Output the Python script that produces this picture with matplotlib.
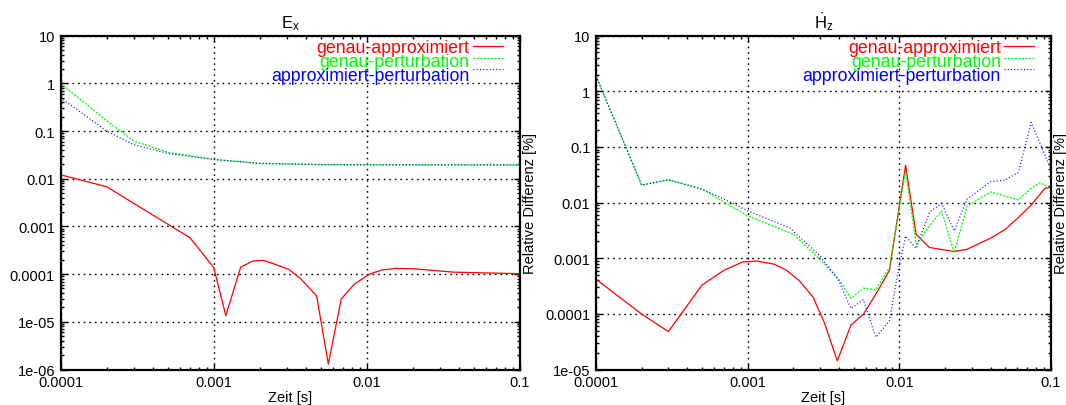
import numpy as np
import matplotlib
matplotlib.use("Agg")
import matplotlib.pyplot as plt
from matplotlib.ticker import LogLocator, FuncFormatter, NullFormatter

plt.rcParams['font.family'] = ['Liberation Sans', 'DejaVu Sans']
plt.rcParams['mathtext.fontset'] = 'custom'
plt.rcParams['mathtext.rm'] = 'Liberation Sans'
plt.rcParams['mathtext.it'] = 'Liberation Sans'

# ---- data, left panel (E_x) ----
ex_ga_t = [1e-4, 2e-4, 7e-4, 1e-3, 1.2e-3, 1.5e-3, 1.8e-3, 2.1e-3, 2.5e-3, 3.1e-3,
           3.7e-3, 4.7e-3, 5.6e-3, 6.8e-3, 8.3e-3, 0.0104, 0.0125, 0.0155, 0.02,
           0.037, 0.09, 0.1]
ex_ga = [0.0121, 0.0068, 5.8e-4, 1.38e-4, 1.35e-5, 1.4e-4, 1.88e-4, 1.95e-4, 1.62e-4,
         1.25e-4, 8e-5, 3.5e-5, 1.3e-6, 3e-5, 6.2e-5, 1.0e-4, 1.22e-4, 1.32e-4, 1.3e-4,
         1.1e-4, 1.03e-4, 1.02e-4]
ex_gp_t = [1e-4, 2e-4, 3e-4, 5e-4, 1e-3, 2e-3, 5e-3, 0.01, 0.1]
ex_gp = [1.0, 0.165, 0.062, 0.036, 0.0255, 0.021, 0.0198, 0.0196, 0.0195]
ex_ap_t = [1e-4, 2e-4, 3e-4, 5e-4, 1e-3, 2e-3, 5e-3, 0.01, 0.1]
ex_ap = [0.5, 0.1, 0.052, 0.034, 0.0253, 0.021, 0.0198, 0.0196, 0.0195]

# ---- data, right panel (dH_z/dt) ----
hz_ga_t = [1e-4, 2e-4, 3e-4, 5e-4, 7e-4, 9.3e-4, 1.15e-3, 1.5e-3, 1.8e-3, 2.2e-3,
           2.7e-3, 3.2e-3, 3.9e-3, 4.8e-3, 5.8e-3, 7e-3, 8.6e-3, 0.011, 0.0129,
           0.0158, 0.023, 0.028, 0.04, 0.05, 0.061, 0.074, 0.091, 0.1]
hz_ga = [4.2e-4, 9.9e-5, 4.8e-5, 3.3e-4, 6.1e-4, 8.6e-4, 8.9e-4, 7.8e-4, 6.1e-4, 3.9e-4,
         2.0e-4, 7e-5, 1.43e-5, 6.3e-5, 9.9e-5, 2.26e-4, 6e-4, 0.047, 0.0027,
         0.00156, 0.00132, 0.00145, 0.0023, 0.0033, 0.0054, 0.009, 0.018, 0.019]
hz_gp_t = [1e-4, 2e-4, 3e-4, 5e-4, 7e-4, 1e-3, 2e-3, 3e-3, 4e-3, 4.8e-3, 5.8e-3, 7e-3,
           8.6e-3, 0.011, 0.0129, 0.0158, 0.019, 0.023, 0.028, 0.04, 0.061, 0.075,
           0.085, 0.1]
hz_gp = [1.9, 0.0207, 0.0257, 0.0175, 0.0102, 0.0058, 0.0027, 9.6e-4, 4.2e-4, 1.9e-4,
         2.9e-4, 2.7e-4, 6.8e-4, 0.037, 0.0018, 0.0038, 0.0071, 0.00126, 0.0087,
         0.0155, 0.0112, 0.0186, 0.023, 0.017]
hz_ap_t = [1e-4, 2e-4, 3e-4, 5e-4, 7e-4, 1e-3, 1.9e-3, 3e-3, 4e-3, 4.8e-3, 5.8e-3, 7e-3,
           8.6e-3, 0.0098, 0.011, 0.0129, 0.0158, 0.019, 0.023, 0.028, 0.04, 0.05,
           0.061, 0.074, 0.1]
hz_ap = [1.9, 0.0207, 0.0257, 0.0175, 0.0115, 0.0071, 0.0035, 0.0011, 3.9e-4, 1.25e-4,
         1.8e-4, 3.8e-5, 7.5e-5, 5.6e-4, 0.0025, 0.0015, 0.0067, 0.0098, 0.0031, 0.0116,
         0.0237, 0.0255, 0.035, 0.277, 0.04]

labels = ['genau-approximiert', 'genau-perturbation', 'approximiert-perturbation']
colors = ['#ff0000', '#00ff00', '#0000ff']
styles = ['-', (0, (1.7, 1.1)), (0, (0.8, 1.8))]

fig = plt.figure(figsize=(10.66, 4.06), dpi=100)
ax1 = fig.add_axes([0.0568, 0.0874, 0.4310, 0.8222])
ax2 = fig.add_axes([0.5591, 0.0874, 0.4268, 0.8222])


def fmt(v, pos):
    return '%g' % v


def setup(ax, title, ymin):
    ax.set_xscale('log')
    ax.set_yscale('log')
    ax.set_xlim(1e-4, 0.1)
    ax.set_ylim(ymin, 10)
    for a in (ax.xaxis, ax.yaxis):
        a.set_major_locator(LogLocator(base=10, numticks=20))
        a.set_minor_locator(LogLocator(base=10, subs=np.arange(2, 10), numticks=100))
        a.set_major_formatter(FuncFormatter(fmt))
        a.set_minor_formatter(NullFormatter())
    ax.tick_params(which='both', direction='in', top=True, right=True, labelsize=10.5,
                   color='black')
    ax.tick_params(which='major', length=4.5, width=1, pad=4)
    ax.tick_params(which='minor', length=2.5, width=1)
    for s in ax.spines.values():
        s.set_linewidth(1.6)
    ax.grid(True, which='major', color='black', linestyle=(0, (1.2, 2.8)), linewidth=1)
    ax.set_title(title, fontsize=12, pad=6)
    ax.set_xlabel('Zeit [s]', fontsize=10.5, labelpad=1)
    ax.yaxis.set_label_position('right')
    ax.set_ylabel('Relative Differenz [%]', fontsize=10.5, labelpad=2)


def legend(ax, handles):
    text_y = [0.966, 0.923, 0.881]
    line_y = [0.968, 0.933, 0.900]
    for (lab, c, ls), ty, ly in zip(handles, text_y, line_y):
        ax.text(0.890, ty, lab, transform=ax.transAxes, ha='right', va='center',
                color=c, fontsize=12.8)
        ax.plot([0.897, 0.962], [ly, ly], transform=ax.transAxes,
                color=c, linestyle=ls, linewidth=0.9, clip_on=False)


setup(ax1, r'E$_\mathrm{x}$', 1e-6)
ax1.plot(ex_ga_t, ex_ga, color=colors[0], linestyle=styles[0], linewidth=0.9)
ax1.plot(ex_gp_t, ex_gp, color=colors[1], linestyle=styles[1], linewidth=0.9)
ax1.plot(ex_ap_t, ex_ap, color=colors[2], linestyle=styles[2], linewidth=0.9)
legend(ax1, zip(labels, colors, styles))

setup(ax2, r'$\dot{\mathrm{H}}_\mathrm{z}$', 1e-5)
ax2.plot(hz_ga_t, hz_ga, color=colors[0], linestyle=styles[0], linewidth=0.9)
ax2.plot(hz_gp_t, hz_gp, color=colors[1], linestyle=styles[1], linewidth=0.9)
ax2.plot(hz_ap_t, hz_ap, color=colors[2], linestyle=styles[2], linewidth=0.9)
legend(ax2, zip(labels, colors, styles))

fig.savefig('out.png', dpi=100)
